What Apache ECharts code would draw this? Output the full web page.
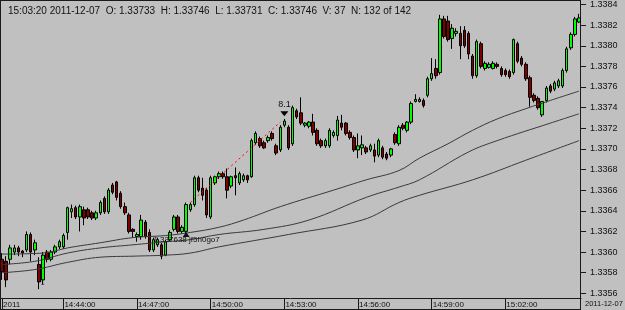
<!DOCTYPE html>
<html><head><meta charset="utf-8">
<script src="https://cdn.jsdelivr.net/npm/echarts/dist/echarts.min.js"></script>
<style>html,body{margin:0;padding:0;background:#c0c0c0;overflow:hidden}#c{width:625px;height:310px}</style>
</head><body><div id="c"></div>
<script>
// ---- data ----
const open = [
1.33593,1.33591,1.33593,1.33600,1.33604,1.33601,1.33602,1.33617,1.33602,1.33588,
1.33573,1.33600,1.33593,1.33600,1.33605,1.33605,1.33619,1.33639,1.33643,1.33634,
1.33641,1.33641,1.33638,1.33633,1.33638,1.33652,1.33639,1.33665,1.33668,1.33657,
1.33644,1.33636,1.33622,1.33615,1.33615,1.33629,1.33619,1.33602,1.33607,1.33607,
1.33597,1.33612,1.33622,1.33634,1.33620,1.33620,1.33641,1.33646,1.33672,1.33662,
1.33660,1.33634,1.33667,1.33673,1.33676,1.33673,1.33664,1.33674,1.33667,1.33670,
1.33674,1.33673,1.33706,1.33710,1.33706,1.33708,1.33715,1.33703,1.33699,1.33723,
1.33721,1.33705,1.33737,1.33735,1.33723,1.33722,1.33726,1.33718,1.33708,1.33703,
1.33703,1.33713,1.33713,1.33725,1.33725,1.33716,1.33711,1.33699,1.33701,1.33701,
1.33699,1.33699,1.33694,1.33701,1.33695,1.33694,1.33714,1.33705,1.33723,1.33718,
1.33726,1.33746,1.33746,1.33747,1.33752,1.33768,1.33778,1.33774,1.33826,1.33824,
1.33807,1.33812,1.33812,1.33815,1.33812,1.33790,1.33771,1.33802,1.33778,1.33779,
1.33778,1.33782,1.33778,1.33776,1.33775,1.33774,1.33802,1.33788,1.33782,1.33769,
1.33752,1.33749,1.33733,1.33747,1.33761,1.33758,1.33761,1.33761,1.33776,1.33798,
1.33811,1.33823];
const close = [
1.33581,1.33573,1.33604,1.33604,1.33600,1.33599,1.33617,1.33600,1.33609,1.33571,
1.33597,1.33593,1.33600,1.33605,1.33610,1.33616,1.33643,1.33642,1.33634,1.33644,
1.33633,1.33634,1.33633,1.33638,1.33648,1.33639,1.33660,1.33658,1.33653,1.33644,
1.33638,1.33620,1.33620,1.33617,1.33631,1.33615,1.33602,1.33612,1.33612,1.33596,
1.33610,1.33619,1.33634,1.33620,1.33624,1.33646,1.33646,1.33672,1.33660,1.33655,
1.33636,1.33672,1.33673,1.33676,1.33673,1.33660,1.33673,1.33672,1.33676,1.33674,
1.33670,1.33708,1.33715,1.33703,1.33701,1.33711,1.33710,1.33696,1.33721,1.33727,
1.33701,1.33740,1.33731,1.33725,1.33725,1.33726,1.33716,1.33705,1.33703,1.33708,
1.33718,1.33716,1.33728,1.33721,1.33715,1.33711,1.33699,1.33703,1.33704,1.33697,
1.33703,1.33693,1.33708,1.33692,1.33691,1.33700,1.33706,1.33721,1.33720,1.33726,
1.33744,1.33748,1.33748,1.33742,1.33768,1.33773,1.33771,1.33826,1.33809,1.33806,
1.33817,1.33814,1.33800,1.33800,1.33792,1.33771,1.33804,1.33780,1.33783,1.33782,
1.33783,1.33780,1.33772,1.33772,1.33770,1.33806,1.33785,1.33782,1.33768,1.33750,
1.33747,1.33740,1.33746,1.33759,1.33756,1.33764,1.33766,1.33776,1.33797,1.33811,
1.33826,1.33827];
const low = [
1.33573,1.33566,1.33588,1.33597,1.33596,1.33595,1.33600,1.33591,1.33597,1.33564,
1.33569,1.33590,1.33591,1.33598,1.33603,1.33603,1.33612,1.33633,1.33632,1.33620,
1.33626,1.33632,1.33631,1.33631,1.33636,1.33637,1.33637,1.33656,1.33650,1.33642,
1.33636,1.33618,1.33614,1.33610,1.33612,1.33613,1.33600,1.33600,1.33605,1.33593,
1.33596,1.33610,1.33620,1.33618,1.33618,1.33618,1.33639,1.33644,1.33658,1.33650,
1.33633,1.33632,1.33665,1.33671,1.33671,1.33652,1.33662,1.33655,1.33665,1.33668,
1.33667,1.33672,1.33704,1.33701,1.33700,1.33706,1.33708,1.33694,1.33697,1.33721,
1.33699,1.33703,1.33729,1.33723,1.33721,1.33720,1.33713,1.33703,1.33701,1.33701,
1.33701,1.33711,1.33708,1.33718,1.33713,1.33709,1.33697,1.33691,1.33694,1.33695,
1.33697,1.33687,1.33692,1.33690,1.33689,1.33692,1.33704,1.33703,1.33718,1.33716,
1.33724,1.33745,1.33745,1.33740,1.33750,1.33766,1.33768,1.33772,1.33807,1.33804,
1.33797,1.33809,1.33787,1.33798,1.33787,1.33768,1.33769,1.33778,1.33776,1.33778,
1.33777,1.33778,1.33770,1.33770,1.33768,1.33772,1.33783,1.33780,1.33766,1.33741,
1.33745,1.33738,1.33731,1.33745,1.33754,1.33756,1.33759,1.33759,1.33774,1.33796,
1.33809,1.33822];
const high = [
1.33599,1.33596,1.33607,1.33607,1.33606,1.33602,1.33620,1.33619,1.33612,1.33595,
1.33600,1.33602,1.33602,1.33607,1.33612,1.33618,1.33644,1.33646,1.33645,1.33646,
1.33644,1.33643,1.33640,1.33640,1.33650,1.33654,1.33662,1.33667,1.33669,1.33659,
1.33648,1.33638,1.33623,1.33619,1.33636,1.33631,1.33622,1.33614,1.33614,1.33609,
1.33612,1.33621,1.33636,1.33636,1.33626,1.33648,1.33648,1.33674,1.33674,1.33672,
1.33662,1.33674,1.33674,1.33678,1.33678,1.33681,1.33674,1.33682,1.33678,1.33676,
1.33675,1.33710,1.33717,1.33712,1.33708,1.33713,1.33717,1.33705,1.33723,1.33729,
1.33723,1.33742,1.33739,1.33750,1.33726,1.33727,1.33734,1.33720,1.33710,1.33710,
1.33720,1.33718,1.33732,1.33733,1.33726,1.33718,1.33713,1.33715,1.33713,1.33703,
1.33705,1.33705,1.33710,1.33703,1.33697,1.33701,1.33716,1.33723,1.33725,1.33727,
1.33746,1.33753,1.33750,1.33749,1.33770,1.33788,1.33787,1.33830,1.33829,1.33829,
1.33821,1.33817,1.33819,1.33819,1.33814,1.33792,1.33806,1.33804,1.33785,1.33784,
1.33785,1.33784,1.33780,1.33778,1.33777,1.33807,1.33804,1.33790,1.33784,1.33771,
1.33754,1.33751,1.33746,1.33761,1.33763,1.33766,1.33768,1.33778,1.33799,1.33813,
1.33828,1.33831];

// moving-average lines, read at sample bars: [bar index, value]
const maUpper = [[0,1.33598],[10,1.33599],[16,1.33604],[24,1.33609],[32,1.33614],[40,1.33616],[46,1.33619],[53,1.33624],[59,1.33631],[68,1.33644],[81,1.33660],[89,1.33670],[97,1.33679],[102,1.33691],[109,1.33705],[115,1.33718],[121,1.33729],[128,1.33739],[134,1.33747],[141,1.33756]];
const maMiddle = [[0,1.33588],[8,1.33591],[16,1.33599],[24,1.33604],[32,1.33607],[40,1.33610],[46,1.33612],[53,1.33617],[64,1.33622],[75,1.33631],[89,1.33653],[97,1.33663],[102,1.33670],[114,1.33697],[121,1.33708],[134,1.33725],[141,1.33734]];
const maLower = [[0,1.33580],[8,1.33583],[16,1.33590],[24,1.33595],[32,1.33596],[40,1.33597],[46,1.33599],[53,1.33605],[70,1.33617],[88,1.33631],[97,1.33648],[102,1.33655],[115,1.33670],[128,1.33689],[141,1.33708]];

const xTickIdx = [0,15,33,51,69,87,105,123];
const xTickLabels = ['2011','14:44:00','14:47:00','14:50:00','14:53:00','14:56:00','14:59:00','15:02:00'];
const yMin = 1.3356, yMax = 1.3384, yStep = 0.0002;
const titleText = '15:03:20 2011-12-07  O: 1.33733  H: 1.33746  L: 1.33731  C: 1.33746  V: 37  N: 132 of 142';
const dateLabel = '2011-12-07';
const trendLine = [[46, 1.33648], [68, 1.33726]];
const marker81 = [69, 1.33734];
const markerTop = [136, 1.33841];
const markerUp = [45, 1.33617];
const objLabel = [37, 1.33612];
const objText = '1.337638 jf5h0go7';
const smallOne = [9, 1.33570];

// ---- chart ----
const SANS = '"Liberation Sans", Arial, sans-serif';
const cats = open.map((_, i) => i);
const candles = open.map((o, i) => [o, close[i], low[i], high[i]]);
const tickSet = new Set(xTickIdx);
const chart = echarts.init(document.getElementById('c'), null, {renderer: 'canvas'});
const lineCol = '#1a1a1a';
chart.setOption({
  animation: false,
  backgroundColor: '#c0c0c0',
  grid: {left: -1.15, width: 582.2, top: 2.7, height: 290.6},
  xAxis: {
    type: 'category', data: cats, boundaryGap: true, offset: 4.7,
    axisLine: {show: true, lineStyle: {color: lineCol, width: 1}},
    axisTick: {show: true, alignWithLabel: true, length: 11, interval: (i) => tickSet.has(i), lineStyle: {color: lineCol}},
    axisLabel: {show: true, interval: (i) => tickSet.has(i),
      formatter: (v, i) => xTickLabels[xTickIdx.indexOf(Number(v))] || '',
      align: 'left', margin: 2.5, fontSize: 8, fontFamily: SANS, color: '#111', padding: [0, 0, 0, 1]},
    splitLine: {show: false}
  },
  yAxis: {
    type: 'value', position: 'right', min: yMin, max: yMax, interval: yStep,
    axisLine: {show: false},
    axisTick: {show: true, length: 5, lineStyle: {color: lineCol}},
    axisLabel: {formatter: (v) => v.toFixed(4), margin: 9, fontSize: 9, fontFamily: SANS, color: '#111'},
    splitLine: {show: false}
  },
  series: [
    {type: 'line', data: maUpper, symbol: 'none', smooth: 0.4, lineStyle: {color: '#3a3a3a', width: 1}},
    {type: 'line', data: maMiddle, symbol: 'none', smooth: 0.4, lineStyle: {color: '#3a3a3a', width: 1}},
    {type: 'line', data: maLower, symbol: 'none', smooth: 0.4, lineStyle: {color: '#3a3a3a', width: 1}},
    {
      type: 'candlestick', data: candles, barWidth: 3,
      itemStyle: {color: '#00ff00', color0: '#800000', borderColor: '#000', borderColor0: '#000', borderWidth: 1},
      markLine: {
        silent: true, symbol: ['none', 'none'], label: {show: false}, animation: false,
        lineStyle: {color: '#ff0000', type: [2, 3], width: 1},
        data: [[{coord: trendLine[0]}, {coord: trendLine[1]}]]
      },
      markPoint: {
        silent: true, animation: false,
        data: [
          {coord: marker81, symbol: 'triangle', symbolRotate: 180, symbolSize: [8, 5], itemStyle: {color: '#000'},
            label: {show: true, formatter: '8.1', position: 'top', distance: 2, color: '#111', fontSize: 9, fontFamily: SANS}},
          {coord: markerTop, symbol: 'triangle', symbolRotate: 180, symbolSize: [11, 6], itemStyle: {color: '#000'}, label: {show: false}},
          {coord: markerUp, symbol: 'triangle', symbolSize: [7, 5], itemStyle: {color: '#111'}, label: {show: false}},
          {coord: objLabel, symbol: 'circle', symbolSize: 0,
            label: {show: true, formatter: objText, position: 'right', distance: 0, color: '#111', fontSize: 8, fontFamily: SANS}},
          {coord: smallOne, symbol: 'circle', symbolSize: 0,
            label: {show: true, formatter: '1', position: 'right', distance: 2, color: '#111', fontSize: 7, fontFamily: SANS}}
        ]
      }
    }
  ],
  graphic: [
    {type: 'text', left: 8, top: 6, style: {text: titleText, font: '10px ' + SANS, fill: '#111'}},
    {type: 'text', left: 585, top: 300, style: {text: dateLabel, font: '7.5px ' + SANS, fill: '#111'}},
    {type: 'line', shape: {x1: 580.5, y1: 0, x2: 580.5, y2: 310}, style: {stroke: lineCol, lineWidth: 1}},
    {type: 'line', shape: {x1: 0, y1: 309.5, x2: 580, y2: 309.5}, style: {stroke: lineCol, lineWidth: 1}},
    {type: 'line', shape: {x1: 0, y1: 0.5, x2: 580, y2: 0.5}, style: {stroke: lineCol, lineWidth: 1}},
    {type: 'line', shape: {x1: 0.5, y1: 0, x2: 0.5, y2: 310}, style: {stroke: lineCol, lineWidth: 1}}
  ]
});
</script></body></html>
